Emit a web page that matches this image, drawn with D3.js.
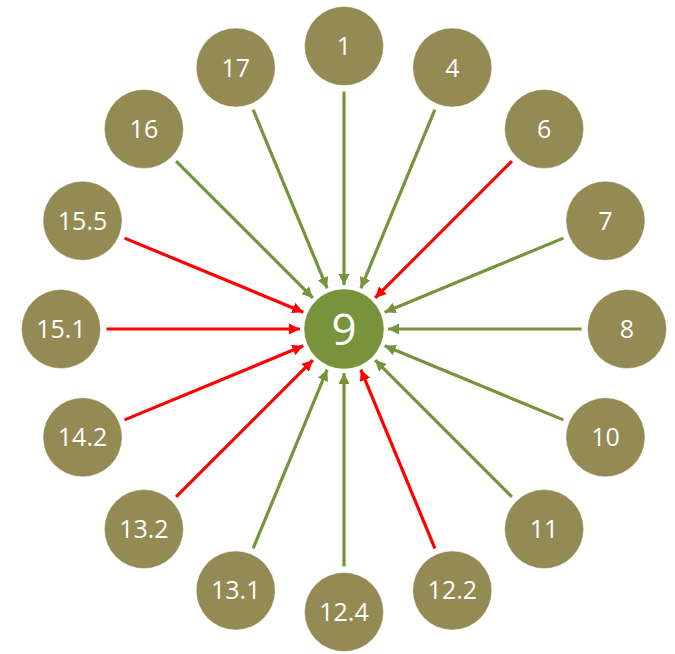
<!DOCTYPE html>
<html>
<head>
<meta charset="utf-8">
<script src="https://cdn.jsdelivr.net/npm/d3@7"></script>
<style>
  html, body { margin: 0; padding: 0; background: #fff; }
  svg { display: block; }
</style>
</head>
<body>
<div id="chart"></div>
<script>
// Data
const centerLabel = "9";
const nodeLabels = ["1", "4", "6", "7", "8", "10", "11", "12.2", "12.4", "13.1", "13.2", "14.2", "15.1", "15.5", "16", "17"];
const arrowTypes = ["green", "green", "red", "green", "green", "green", "green", "red", "green", "green", "red", "red", "red", "red", "green", "green"];

const W = 675, H = 654;
const cx = 344, cy = 329;
const orbit = 283;
const rNode = 39.5, rCenter = 40;

const colors = { green: "#77933C", red: "#FF0000" };

const svg = d3.select("#chart").append("svg")
  .attr("width", W).attr("height", H);

const defs = svg.append("defs");
Object.entries(colors).forEach(([k, c]) => {
  defs.append("marker")
    .attr("id", "arrow-" + k)
    .attr("viewBox", "0 0 10 10")
    .attr("refX", 10).attr("refY", 5)
    .attr("markerUnits", "userSpaceOnUse")
    .attr("markerWidth", 11).attr("markerHeight", 12)
    .attr("orient", "auto")
    .append("path")
    .attr("d", "M0,0 L10,5 L0,10 Z")
    .attr("fill", c);
});

const angle = d3.scaleLinear().domain([0, nodeLabels.length]).range([-Math.PI / 2, 1.5 * Math.PI]);

const nodes = nodeLabels.map((label, i) => {
  const a = angle(i);
  return { label, type: arrowTypes[i], a, x: cx + orbit * Math.cos(a), y: cy + orbit * Math.sin(a) };
});

// arrows
const startDist = orbit - rNode - 6;
const endDist = rCenter + 4;
svg.append("g").selectAll("line").data(nodes).join("line")
  .attr("x1", d => cx + startDist * Math.cos(d.a))
  .attr("y1", d => cy + startDist * Math.sin(d.a))
  .attr("x2", d => cx + endDist * Math.cos(d.a))
  .attr("y2", d => cy + endDist * Math.sin(d.a))
  .attr("stroke", d => colors[d.type])
  .attr("stroke-width", 3.2)
  .attr("marker-end", d => `url(#arrow-${d.type})`);

// outer nodes
const g = svg.append("g").selectAll("g").data(nodes).join("g")
  .attr("transform", d => `translate(${d.x},${d.y})`);
g.append("circle").attr("r", rNode).attr("fill", "#948A54")
  .attr("stroke", "#fff").attr("stroke-opacity", 0.4).attr("stroke-width", 1);
g.append("text")
  .attr("text-anchor", "middle").attr("dy", "0.36em")
  .attr("fill", "#fff")
  .attr("font-family", "'Open Sans', 'Noto Sans', sans-serif")
  .attr("font-size", 25)
  .text(d => d.label);

// center node
svg.append("circle").attr("cx", cx).attr("cy", cy).attr("r", rCenter)
  .attr("fill", "#77933C").attr("stroke", "#fff").attr("stroke-opacity", 0.4);
svg.append("text").attr("x", cx).attr("y", cy)
  .attr("text-anchor", "middle").attr("dy", "0.36em")
  .attr("fill", "#fff")
  .attr("font-family", "'Open Sans', 'Noto Sans', sans-serif")
  .attr("font-size", 44)
  .text(centerLabel);
</script>
</body>
</html>
